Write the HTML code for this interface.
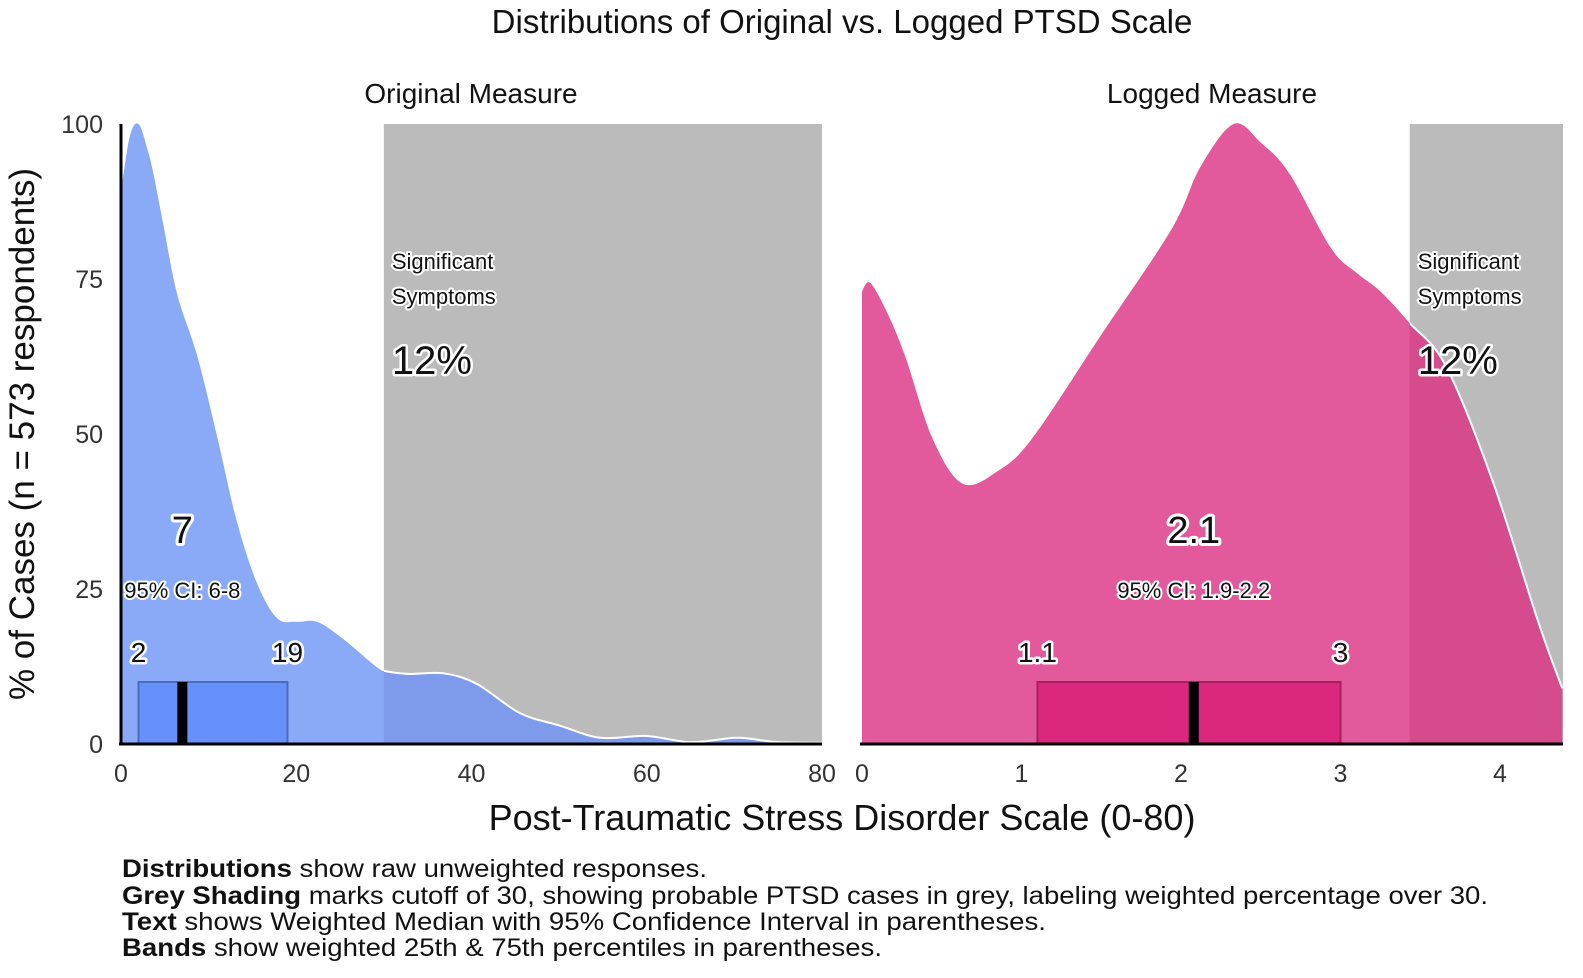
<!DOCTYPE html>
<html><head><meta charset="utf-8"><style>
html,body{margin:0;padding:0;background:#fff;}
svg{display:block;font-family:"Liberation Sans",Arial,sans-serif;}
.halo{paint-order:stroke;stroke:#fff;stroke-linejoin:round;}
</style></head><body>
<svg id="chart" width="1583" height="978" viewBox="0 0 1583 978">
<text x="842" y="33" font-size="33" text-anchor="middle" fill="#111">Distributions of Original vs. Logged PTSD Scale</text>
<text x="471" y="103" font-size="28" text-anchor="middle" fill="#111">Original Measure</text>
<text x="1212" y="103" font-size="28" text-anchor="middle" fill="#111">Logged Measure</text>
<text transform="translate(34,434) rotate(-90)" font-size="35" text-anchor="middle" fill="#111">% of Cases (n = 573 respondents)</text>
<text x="842" y="830" font-size="36" text-anchor="middle" fill="#111">Post-Traumatic Stress Disorder Scale (0-80)</text>
<g font-size="25" fill="#111">
<text x="122" y="877" textLength="585" lengthAdjust="spacingAndGlyphs"><tspan font-weight="bold">Distributions</tspan> show raw unweighted responses.</text>
<text x="122" y="904" textLength="1366" lengthAdjust="spacingAndGlyphs"><tspan font-weight="bold">Grey Shading</tspan> marks cutoff of 30, showing probable PTSD cases in grey, labeling weighted percentage over 30.</text>
<text x="122" y="930" textLength="924" lengthAdjust="spacingAndGlyphs"><tspan font-weight="bold">Text</tspan> shows Weighted Median with 95% Confidence Interval in parentheses.</text>
<text x="122" y="956" textLength="760" lengthAdjust="spacingAndGlyphs"><tspan font-weight="bold">Bands</tspan> show weighted 25th &amp; 75th percentiles in parentheses.</text>
</g>
<g id="plots"></g>
</svg>
<script>
// Left panel (original measure) data
const origX = [0,1,2,3,3.7,4.8,6.4,8.7,11,13.2,15.5,17.8,20,22.4,25.3,29.2,30.4,33,36.8,40.6,45.5,50,54.7,60,65,70,72,75,80];
const origY = [89,98,100,96,92,84,72.6,62.6,49.4,36,26,20.3,19.7,19.7,17,12.4,11.7,11.3,11.4,9.7,5,3,1,1.3,0.3,1,0.8,0.3,0.2];
const origXTicks = [0,20,40,60,80];
const yTicks = [0,25,50,75,100];
const origStats = {q1:2, median:7, q3:19, cutoff:30, ci:"95% CI: 6-8", pct:"12%", medLabel:"7"};
// Right panel (logged measure) data
const logX = [0,0.05,0.15,0.27,0.44,0.63,0.85,1.07,1.5,1.94,2.12,2.33,2.5,2.68,2.94,3.1,3.25,3.43,3.66,3.95,4.24,4.39];
const logY = [73,74.4,70,62.6,49.4,42,44,49.4,66,83,93,100,97,92,80,76,73,68,61,42.7,19.7,9];
const logXTicks = [0,1,2,3,4];
const logStats = {q1:1.1, median:2.08, q3:3, cutoff:3.434, ci:"95% CI: 1.9-2.2", pct:"12%", medLabel:"2.1", q1Label:"1.1", q3Label:"3"};

const NS="http://www.w3.org/2000/svg";
const root=document.getElementById('plots');
function mk(tag,attrs,parent){const e=document.createElementNS(NS,tag);for(const k in attrs)e.setAttribute(k,attrs[k]);(parent||root).appendChild(e);return e;}
function smooth(pts){let d=`M${pts[0][0]},${pts[0][1]}`;for(let i=0;i<pts.length-1;i++){const p0=pts[i-1]||pts[i],p1=pts[i],p2=pts[i+1],p3=pts[i+2]||p2;const c1x=p1[0]+(p2[0]-p0[0])/6,c1y=p1[1]+(p2[1]-p0[1])/6,c2x=p2[0]-(p3[0]-p1[0])/6,c2y=p2[1]-(p3[1]-p1[1])/6;d+=`C${c1x},${c1y} ${c2x},${c2y} ${p2[0]},${p2[1]}`;}return d;}

function panel(id,x0,x1,dmin,dmax,xs,ys,ticks,st,col,dark,boxFill,boxStroke,leftAxis){
  const y0=744,yTop=124;
  const sx=v=>x0+(v-dmin)/(dmax-dmin)*(x1-x0);
  const sy=v=>y0-v/100*(y0-yTop);
  const g=mk('g',{});
  
  
  const gx=sx(st.cutoff);
  const r=mk('rect',{x:gx,y:yTop,width:x1-gx,height:y0-yTop,fill:'#bbbbbb'},g);
  
  
  const pts=xs.map((v,i)=>[sx(v),sy(ys[i])]);
  const line=smooth(pts);
  const area=line+`L${pts[pts.length-1][0]},${y0}L${pts[0][0]},${y0}Z`;
  const a=mk('path',{d:area,fill:col},g);
  
  
  const cp=mk('clipPath',{id:id+'clip'},g);
  mk('rect',{x:gx,y:0,width:x1-gx+2,height:800},cp);
  const a2=mk('path',{d:area,fill:dark,'clip-path':`url(#${id}clip)`},g);
  
  
  mk('path',{d:line,fill:'none',stroke:'#fff','stroke-width':2,'clip-path':`url(#${id}clip)`},g);
  const b=mk('rect',{x:sx(st.q1),y:sy(10),width:sx(st.q3)-sx(st.q1),height:y0-sy(10),fill:boxFill,stroke:boxStroke,'stroke-width':2},g);
  
  
  const m=mk('rect',{x:sx(st.median)-5,y:sy(10),width:10,height:y0-sy(10),fill:'#000'},g);
  
  
  mk('line',{x1:x0-2,x2:x1,y1:y0,y2:y0,stroke:'#000','stroke-width':3},g);
  if(leftAxis)mk('line',{x1:x0,x2:x0,y1:yTop,y2:y0+1,stroke:'#000','stroke-width':3},g);
  ticks.forEach(t=>{const tt=mk('text',{x:sx(t),y:782,'font-size':25,'text-anchor':'middle',fill:'#333'},g);tt.textContent=t;
    
    });
  if(leftAxis)yTicks.forEach(t=>{const tt=mk('text',{x:103,y:sy(t)+9,'font-size':25,'text-anchor':'end',fill:'#333'},g);tt.textContent=t;
    
    });
  function lab(txt,x,y,fs,anchor,name,sw){const t=mk('text',{x,y,'font-size':fs,'text-anchor':anchor,fill:'#111',class:'halo','stroke-width':sw||5},g);t.textContent=txt;
    
    return t;}
  lab('Significant',gx+8,269,22,'start',id+'-significant-label',4);
  lab('Symptoms',gx+8,304,22,'start',id+'-symptoms-label',4);
  lab(st.pct,gx+8,374,40,'start',id+'-percent-label',5);
  lab(st.medLabel,sx(st.median),543,38,'middle',id+'-median-label',6);
  lab(st.ci,sx(st.median),598,22,'middle',id+'-ci-label',4);
  lab(st.q1Label||String(st.q1),sx(st.q1),662,28,'middle',id+'-q1-label',5);
  lab(st.q3Label||String(st.q3),sx(st.q3),662,28,'middle',id+'-q3-label',5);
}
panel('original',121,822,0,80,origX,origY,origXTicks,origStats,'#8aaaf8','#7d9bea','#6690fa','#4a6cc0',true);
panel('logged',862,1563,0,(1563-862)/159.5,logX,logY,logXTicks,logStats,'#e35a9c','#d54b8c','#dc277e','#a82060',false);
</script>
</body></html>
